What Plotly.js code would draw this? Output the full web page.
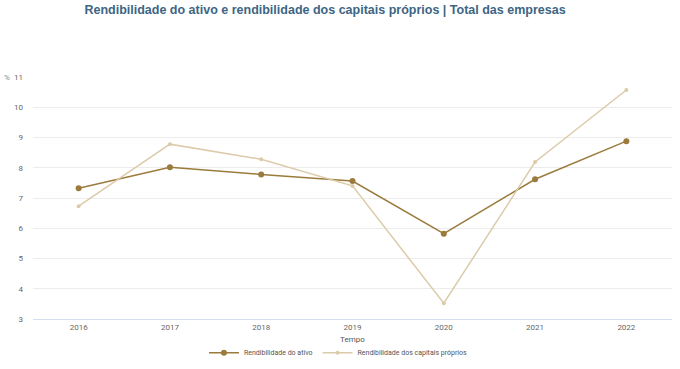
<!DOCTYPE html>
<html><head><meta charset="utf-8">
<script src="https://cdn.plot.ly/plotly-3.0.1.min.js"></script>
<style>html,body{margin:0;padding:0;background:#fff}#c{width:680px;height:369px}</style>
</head><body><div id="c"></div>
<script>
const years = ['2016','2017','2018','2019','2020','2021','2022'];
const ativo = [7.32, 8.02, 7.78, 7.56, 5.82, 7.62, 8.88];
const capitais = [6.73, 8.78, 8.28, 7.40, 3.52, 8.19, 10.57];
const names = ['Rendibilidade do ativo', 'Rendibilidade dos capitais próprios'];

const traces = [
  {x: years, y: ativo, name: names[0], type: 'scatter', mode: 'lines+markers',
   line: {color: '#9a7b3c', width: 1.5}, marker: {color: '#9a7b3c', size: 6}},
  {x: years, y: capitais, name: names[1], type: 'scatter', mode: 'lines+markers',
   line: {color: '#dccbaa', width: 1.5}, marker: {color: '#dccbaa', size: 4}}
];
const layout = {
  width: 680, height: 369,
  margin: {l: 33, r: 8, t: 77, b: 50, autoexpand: false},
  paper_bgcolor: '#fff', plot_bgcolor: '#fff',
  font: {family: 'Roboto, Arial, sans-serif', color: '#666', size: 8},
  title: {text: '<b>Rendibilidade do ativo e rendibilidade dos capitais próprios | Total das empresas</b>',
    font: {family: 'Liberation Sans, Arial, sans-serif', size: 12.5, color: '#3d6584'},
    xref: 'paper', x: 0.457, xanchor: 'center', y: 0.985, yanchor: 'top'},
  xaxis: {type: 'category', range: [-0.5, 6.5], showgrid: false, zeroline: false,
    showline: true, linecolor: '#d5ddf0', linewidth: 1, ticks: '', automargin: false,
    tickfont: {size: 8, color: '#666'}},
  yaxis: {range: [3, 11], dtick: 1, showgrid: true, gridcolor: '#ececec', zeroline: false,
    ticks: '', tickfont: {size: 8, color: '#666'}, ticklabelstandoff: 9, automargin: false},
  showlegend: true,
  legend: {orientation: 'h', x: 0.478, xanchor: 'center', yref: 'container', y: 0.005, yanchor: 'bottom',
    itemwidth: 30, font: {size: 7, color: '#555'}},
  annotations: [
    {text: '%', xref: 'paper', yref: 'paper', x: -0.049, y: 1.0, xanchor: 'left',
     yanchor: 'middle', showarrow: false, font: {size: 8, color: '#888'}},
    {text: 'Tempo', xref: 'paper', yref: 'paper', x: 0.5, y: -0.083, xanchor: 'center',
     yanchor: 'middle', showarrow: false, font: {size: 8, color: '#555'}}
  ]
};
Plotly.newPlot('c', traces, layout, {displayModeBar: false, staticPlot: true});
</script></body></html>
